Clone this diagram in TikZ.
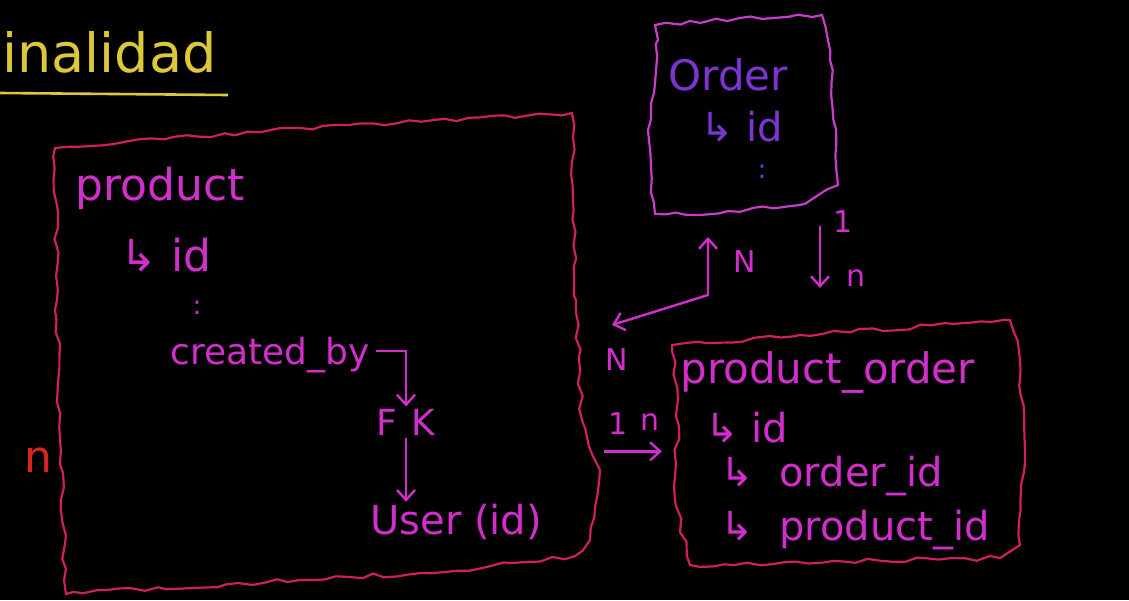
\documentclass[tikz,border=0pt]{standalone}
\usepackage{fontspec}
\setmainfont{DejaVu Sans}
\usetikzlibrary{arrows.meta,decorations.pathmorphing,positioning}
\definecolor{crimson}{HTML}{D0205C}
\definecolor{mag}{HTML}{D22ECB}
\definecolor{ordedge}{HTML}{C83CCB}
\definecolor{ordtext}{HTML}{7E34D2}
\definecolor{chalk}{HTML}{DCC83A}
\definecolor{redn}{HTML}{D8251E}
\tikzstyle{wobbly} = [draw,line width=1.1pt,decorate,decoration={random steps,segment length=6pt,amplitude=1.2pt}]
\tikzstyle{field} = [text=mag,inner sep=1pt,anchor=west,font=\fontsize{20}{24}\selectfont]
\tikzstyle{card} = [text=mag,inner sep=1pt,font=\fontsize{15}{18}\selectfont]
\tikzstyle{vdots} = [inner sep=1pt,font=\fontsize{13}{15}\selectfont]
\tikzstyle{link} = [mag,line width=1.2pt,-{Straight Barb[length=5pt,width=9pt]}]
\def \big {\fontsize{22}{26}\selectfont}

\begin{document}
\begin{tikzpicture}[x=0.5pt,y=-0.5pt]
      \pgfmathsetseed{11}
      \fill[black] (0,0) rectangle (1129,600);
      \useasboundingbox (0,0) rectangle (1129,600);
      % title
      \node[text=chalk,anchor=west,inner sep=0,font=\fontsize{27}{30}\selectfont] (title) at (2,52) {inalidad};
      \draw[chalk,line width=1.3pt] (0,93) -- (228,95);
      % product table
      \draw[wobbly,crimson] (55,148) -- (300,128) -- (572,113) -- (576,300) -- (582,420) -- (600,470)
            -- (590,540) -- (575,556) -- (445,572) -- (300,580) -- (66,594) -- (60,440) -- (57,300) -- cycle;
      \node[field,font=\big] (product) at (73,188) {product};
      \node[field,font=\big] (pid) at (118,255) {↳ id};
      \node[vdots,text=mag] (pdots) at (197,308) {:};
      \node[field,font=\fontsize{18}{21}\selectfont] (createdby) at (168,355) {created\_by};
      \node[card,font=\fontsize{18}{21}\selectfont] (fk) at (406,422) {F\hspace{7pt}K};
      \node[field] (user) at (368,522) {User (id)};
      \draw[link] (createdby.east) ++(4,-4) -| (fk.north);
      \draw[link] (fk.south) -- (fk.south |- user.north);
      \node[text=redn,font=\big] (nred) at (38,460) {n};
      % order table
      \draw[wobbly,ordedge] (655,25) -- (740,18) -- (822,15) -- (830,60) -- (838,185) -- (800,205)
            -- (700,215) -- (655,214) -- (648,130) -- (658,40) -- cycle;
      \node[field,text=ordtext,font=\fontsize{21}{25}\selectfont] (order) at (666,75) {Order};
      \node[field,text=ordtext] (oid) at (698,127) {↳ id};
      \node[vdots,text=ordtext] (odots) at (762,172) {:};
      % product_order table
      \draw[wobbly,crimson] (672,345) -- (800,335) -- (1010,320) -- (1020,360) -- (1025,450)
            -- (1020,545) -- (1000,558) -- (690,565) -- (675,500) -- (678,400) -- cycle;
      \node[field,font=\fontsize{21}{25}\selectfont] (prodorder) at (678,372) {product\_order};
      \node[field] (poid) at (703,428) {↳ id};
      \node[field] (poorder) at (718,476) {↳ \ order\_id};
      \node[field] (poproduct) at (718,530) {↳ \ product\_id};
      % relations
      \coordinate (ordfoot) at (708,237);
      \coordinate (bend) at (708,295);
      \coordinate (prodtip) at (612,325);
      \draw[link,{Straight Barb[length=5pt,width=9pt]}-{Straight Barb[length=5pt,width=9pt]}] (prodtip) -- (bend) -- (ordfoot);
      \node[card] (nup) at (745,262) {N};
      \node[card] (nleft) at (617,360) {N};
      \coordinate (ordbase) at (820,226);
      \coordinate (potop) at (820,288);
      \draw[link] (ordbase) -- (potop);
      \node[card] (oneord) at (843,222) {1};
      \node[card] (nord) at (856,278) {n};
      \node[card] (oneprod) at (618,424) {1};
      \node[card] (nprod) at (650,422) {n};
      \draw[link] (oneprod.south west) ++(-2,14) coordinate (pstart) -- (nprod.south east |- pstart);
    \end{tikzpicture}
\end{document}
